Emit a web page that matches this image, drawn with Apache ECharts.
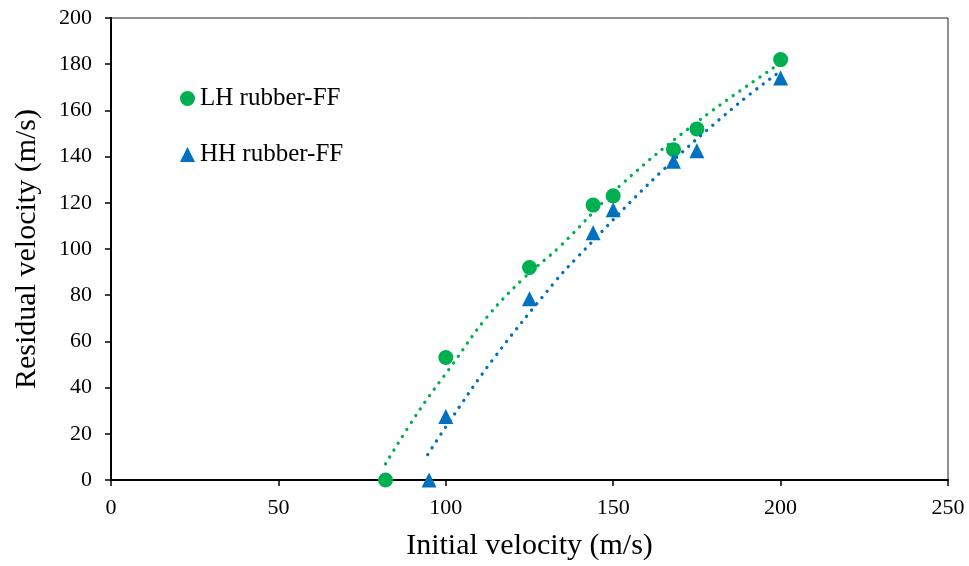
<!DOCTYPE html>
<html>
<head>
<meta charset="utf-8">
<script src="https://cdn.jsdelivr.net/npm/echarts@6/dist/echarts.min.js"></script>
<style>
  html, body { margin: 0; padding: 0; background: #fff; }
  #chart { width: 969px; height: 566px; }
</style>
</head>
<body>
<div id="chart"></div>
<script>
// measured points [initial, residual]
var lhPoints = [[82, 0], [100, 53], [125, 92], [144, 119], [150, 123], [168, 143], [175, 152], [200, 182]];
var hhPoints = [[95, 0], [100, 27.5], [125, 78.5], [144, 107], [150, 117], [168, 138], [175, 142.5], [200, 174]];
// trend lines
var lhTrend = [[82, 7], [92, 30], [102, 50], [112, 70], [123, 87], [134, 101], [152.5, 128], [176, 156], [200, 180.5]];
var hhTrend = [[94.6, 11], [100, 23], [114, 52], [132.7, 86], [139, 96], [164, 133], [187, 162.5], [200, 177]];
var xTicks = [0, 250, 50];
var yTicks = [0, 200, 20];

var font = '"Liberation Serif", "Times New Roman", serif';
var green = '#00B050';
var blue = '#0070C0';

var myChart = echarts.init(document.getElementById('chart'));
var option = {
    animation: false,
    grid: { left: 111, right: 21, top: 18, bottom: 84, show: true, borderColor: '#222', borderWidth: 1 },
    legend: {
        orient: 'vertical',
        left: 180,
        top: 86,
        padding: 0,
        itemWidth: 15,
        itemHeight: 15,
        itemGap: 31,
        textStyle: { fontFamily: font, fontSize: 25, color: '#000' },
        data: [
            { name: 'LH rubber-FF', icon: 'circle' },
            { name: 'HH rubber-FF', icon: 'triangle' }
        ]
    },
    xAxis: {
        type: 'value',
        min: xTicks[0], max: xTicks[1], interval: xTicks[2],
        name: 'Initial velocity (m/s)',
        nameLocation: 'middle',
        nameGap: 51,
        nameTextStyle: { fontFamily: font, fontSize: 30, color: '#000' },
        axisLine: { lineStyle: { color: '#000', width: 2 } },
        axisTick: { show: true, length: 6, lineStyle: { color: '#000', width: 1.5 } },
        axisLabel: { fontFamily: font, fontSize: 22, color: '#000', margin: 17 },
        splitLine: { show: false }
    },
    yAxis: {
        type: 'value',
        min: yTicks[0], max: yTicks[1], interval: yTicks[2],
        name: 'Residual velocity (m/s)',
        nameLocation: 'middle',
        nameGap: 69,
        nameTextStyle: { fontFamily: font, fontSize: 30, color: '#000' },
        axisLine: { show: true, lineStyle: { color: '#000', width: 2 } },
        axisTick: { show: true, length: 6, lineStyle: { color: '#000', width: 1.5 } },
        axisLabel: { fontFamily: font, fontSize: 22, color: '#000', margin: 19 },
        splitLine: { show: false }
    },
    series: [
        {
            name: 'LH trend', type: 'line', data: lhTrend, smooth: 0.4,
            showSymbol: false, silent: true,
            lineStyle: { color: green, width: 3.3, type: [0.1, 8], cap: 'round' }
        },
        {
            name: 'HH trend', type: 'line', data: hhTrend, smooth: 0.4,
            showSymbol: false, silent: true,
            lineStyle: { color: blue, width: 3.3, type: [0.1, 8], cap: 'round' }
        },
        {
            name: 'LH rubber-FF', type: 'scatter', data: lhPoints,
            symbol: 'circle', symbolSize: 15,
            itemStyle: { color: green, opacity: 1 }
        },
        {
            name: 'HH rubber-FF', type: 'scatter', data: hhPoints,
            symbol: 'triangle', symbolSize: 15,
            itemStyle: { color: blue, opacity: 1 }
        }
    ]
};
myChart.setOption(option);
</script>
</body>
</html>
